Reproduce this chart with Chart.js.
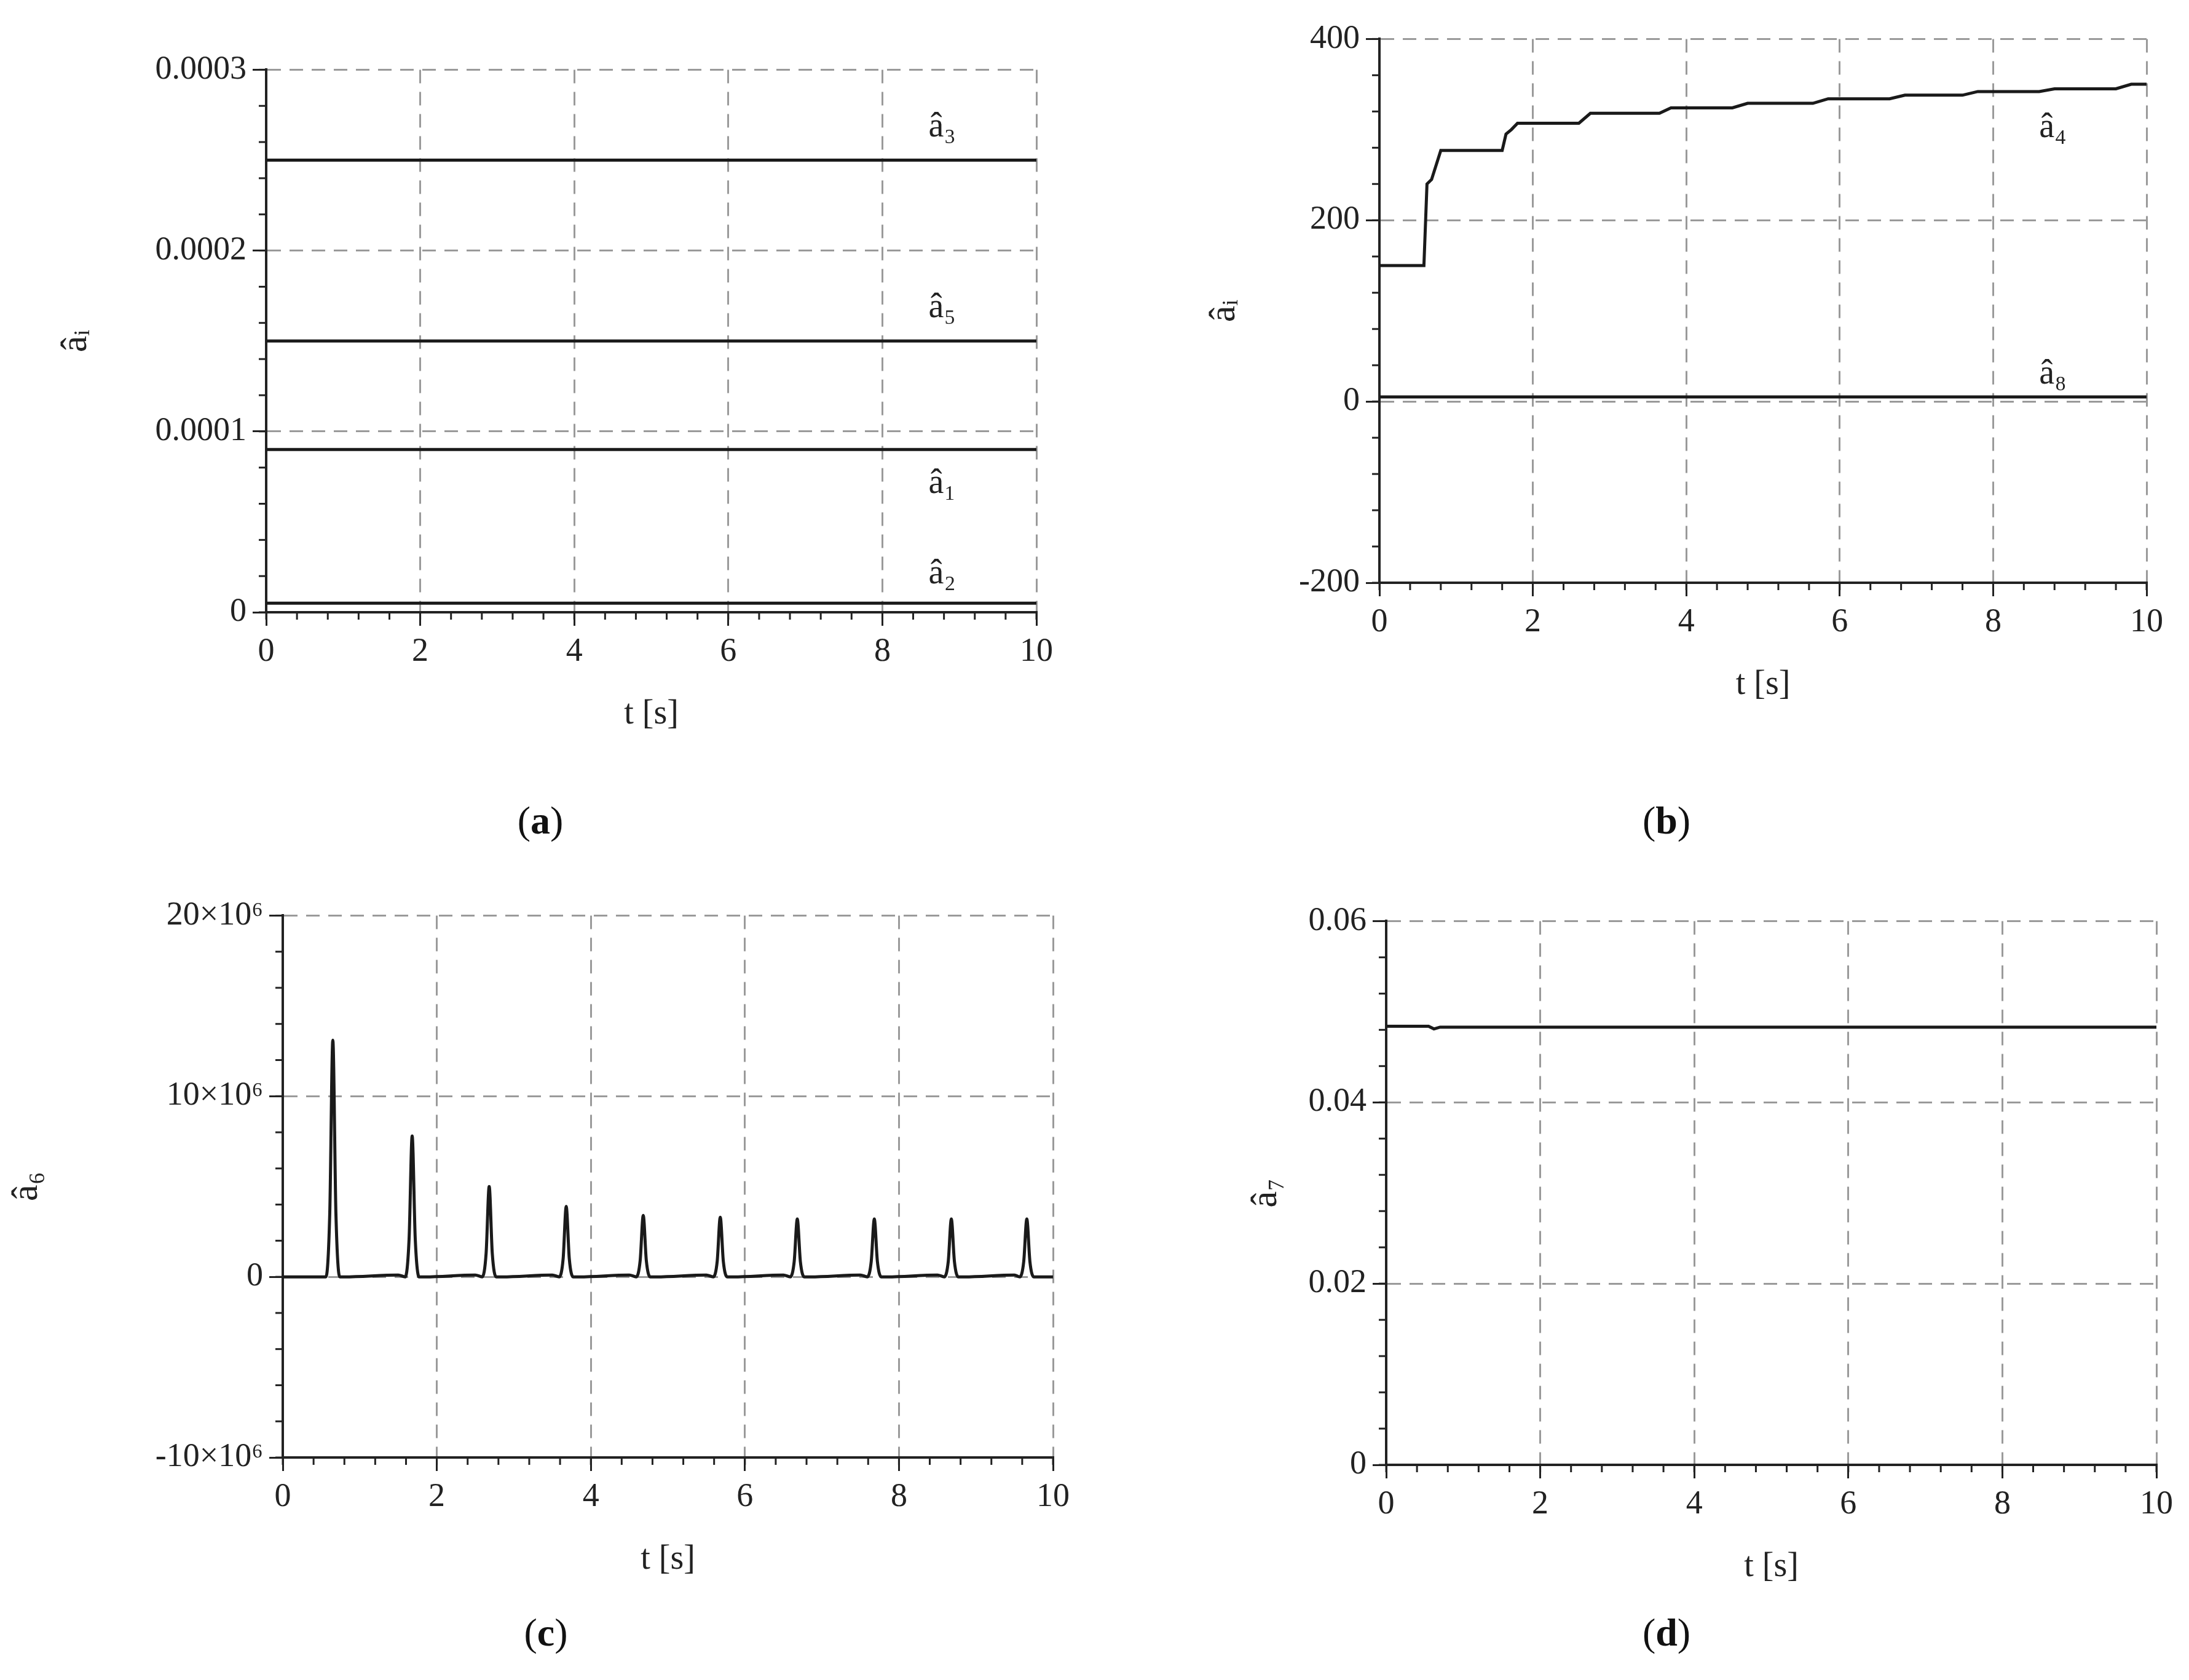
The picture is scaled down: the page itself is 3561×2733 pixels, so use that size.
<!DOCTYPE html>
<html><head><meta charset="utf-8">
<script src="https://cdn.jsdelivr.net/npm/chart.js@4.4.1/dist/chart.umd.min.js"></script>
<style>
body{margin:0;background:#fff;width:3561px;height:2733px;position:relative;overflow:hidden;font-family:"Liberation Serif",serif}
.box{position:absolute}
.cap{position:absolute;font-family:"Liberation Serif",serif;font-size:64px;color:#111;transform:translate(-50%,-50%)}
</style></head><body>
<script>
// ---- data ----
const aLines = [ {name:'â₃', value:0.00025}, {name:'â₅', value:0.00015}, {name:'â₁', value:0.00009}, {name:'â₂', value:0.000005} ];
const aLabelX = [8.6, 8.6, 8.6, 8.6];
const aLabelY = [0.000268, 0.000168, 0.000071, 0.000021];

const bA4T = [0,0.58,0.62,0.68,0.80,1.60,1.65,1.72,1.80,2.60,2.75,3.65,3.80,4.60,4.80,5.65,5.85,6.65,6.85,7.60,7.80,8.60,8.80,9.60,9.80,10];
const bA4V = [150,150,240,245,277,277,295,300,307,307,318,318,324,324,329,329,334,334,338,338,342,342,345,345,350,350];
const bA8T = [0,10];
const bA8V = [5,5];
const bLabelNames = ['â₄','â₈'];
const bLabelX = [8.6, 8.6];
const bLabelY = [302, 30];

const cT = [0,0.50,0.56,0.61,0.65,0.69,0.74,0.80,1.50,1.59,1.64,1.68,1.72,1.77,1.85,2.50,2.59,2.64,2.68,2.72,2.77,2.85,3.50,3.59,3.64,3.68,3.72,3.77,3.85,4.50,4.59,4.64,4.68,4.72,4.77,4.85,5.50,5.59,5.64,5.68,5.72,5.77,5.85,6.50,6.59,6.64,6.68,6.72,6.77,6.85,7.50,7.59,7.64,7.68,7.72,7.77,7.85,8.50,8.59,8.64,8.68,8.72,8.77,8.85,9.50,9.57,9.62,9.66,9.70,9.75,9.83,10];
const cV = [0,0,0,3.5,13.1,3.5,0,0,0.1,0,2.1,7.8,2.1,0,0,0.1,0,1.3,5.0,1.3,0,0,0.1,0,1.0,3.9,1.0,0,0,0.1,0,0.9,3.4,0.9,0,0,0.1,0,0.85,3.3,0.85,0,0,0.1,0,0.85,3.2,0.85,0,0,0.1,0,0.85,3.2,0.85,0,0,0.1,0,0.85,3.2,0.85,0,0,0.1,0,0.85,3.2,0.85,0,0,0];

const dT = [0,0.55,0.62,0.70,0.80,10];
const dV = [0.0484,0.0484,0.0481,0.0483,0.0483,0.0483];

const xTicks = [0,2,4,6,8,10];
const captions = ['(a)','(b)','(c)','(d)'];

// ---- helpers ----
const FONT = '"Liberation Serif", serif';
function pts(t,v){return t.map((x,i)=>({x:x,y:v[i]}));}

const minorTicks = {
  id:'minorTicks',
  afterDraw(chart, args, opts){
    const ctx = chart.ctx, xs = chart.scales.x, ys = chart.scales.y;
    ctx.save(); ctx.strokeStyle='#222'; ctx.lineWidth=3;
    const ca = chart.chartArea;
    for(let v=xs.min; v<=xs.max+1e-9; v+=opts.xStep){
      const p = xs.getPixelForValue(v); ctx.beginPath(); ctx.moveTo(p,ca.bottom); ctx.lineTo(p,ca.bottom+12); ctx.stroke();
    }
    for(let k=0;k<=Math.round((ys.max-ys.min)/opts.yStep);k++){
      const v = ys.min + k*opts.yStep;
      const p = ys.getPixelForValue(v); ctx.beginPath(); ctx.moveTo(ca.left-12,p); ctx.lineTo(ca.left,p); ctx.stroke();
    }
    ctx.restore();
  }
};
const curveLabels = {
  id:'curveLabels',
  afterDatasetsDraw(chart, args, opts){
    if(!opts.names) return;
    const ctx = chart.ctx;
    ctx.save(); ctx.fillStyle='#222'; ctx.font='56px '+FONT; ctx.textAlign='left'; ctx.textBaseline='middle';
    opts.names.forEach((n,i)=>{
      ctx.fillText(n, chart.scales.x.getPixelForValue(opts.xs[i]), chart.scales.y.getPixelForValue(opts.ys[i]));
    });
    ctx.restore();
  }
};

function makePanel(o){
  const div = document.createElement('div');
  div.className='box';
  div.style.left=(o.axisX - o.yW)+'px';
  div.style.top=(o.axisTop - 20)+'px';
  const w = o.yW + o.plotW + 60, h = 20 + o.plotH + 200;
  div.style.width=w+'px'; div.style.height=h+'px';
  const cv = document.createElement('canvas');
  div.appendChild(cv); document.body.appendChild(div);
  new Chart(cv, {
    type:'line',
    data:{datasets:o.datasets.map(d=>({data:d, borderColor:'#1a1a1a', borderWidth:5, pointRadius:0, tension:0, cubicInterpolationMode:o.smooth?'monotone':'default', fill:false}))},
    options:{
      responsive:true, maintainAspectRatio:false, animation:false, devicePixelRatio:1,
      layout:{padding:{top:20,right:60,left:0,bottom:0}},
      plugins:{legend:{display:false}, tooltip:{enabled:false},
        minorTicks:{xStep:0.4, yStep:o.yMinor},
        curveLabels:{names:o.labelNames, xs:o.labelX, ys:o.labelY}},
      scales:{
        x:{type:'linear', min:0, max:10,
          afterBuildTicks:s=>{s.ticks=xTicks.map(v=>({value:v}));},
          afterFit:s=>{s.height=200;},
          grid:{color:'#9a9a9a', lineWidth:3, tickColor:'#222', tickLength:22, tickWidth:3},
          border:{display:true, color:'#222', width:4, dash:[22,14]},
          ticks:{color:'#222', font:{family:FONT,size:54}, padding:10, maxRotation:0},
          title:{display:true, text:'t [s]', color:'#222', font:{family:FONT,size:56}, padding:{top:4,bottom:0}}},
        y:{type:'linear', min:o.yMin, max:o.yMax,
          afterBuildTicks:s=>{s.ticks=o.yTicks.map(v=>({value:v}));},
          afterFit:s=>{s.width=o.yW;},
          grid:{color:'#9a9a9a', lineWidth:3, tickColor:'#222', tickLength:22, tickWidth:3},
          border:{display:true, color:'#222', width:4, dash:[22,14]},
          ticks:{color:'#222', font:{family:FONT,size:54}, padding:10, callback:o.yFmt},
          title:{display:true, text:o.yTitle, color:'#222', font:{family:FONT,size:60}, padding:0}}
      }
    },
    plugins:[minorTicks, curveLabels]
  });
}

makePanel({axisX:433, axisTop:91, plotW:1253, plotH:905, yW:345, yMin:0, yMax:0.0003, yMinor:0.00002,
  yTicks:[0,0.0001,0.0002,0.0003], yFmt:v=>v===0?'0':v.toFixed(4), yTitle:'âᵢ',
  datasets:aLines.map(l=>pts([0,10],[l.value,l.value])),
  labelNames:aLines.map(l=>l.name), labelX:aLabelX, labelY:aLabelY});

makePanel({axisX:2244, axisTop:41, plotW:1248, plotH:907, yW:288, yMin:-200, yMax:400, yMinor:40,
  yTicks:[-200,0,200,400], yFmt:v=>String(v), yTitle:'âᵢ',
  datasets:[pts(bA4T,bA4V), pts(bA8T,bA8V)],
  labelNames:bLabelNames, labelX:bLabelX, labelY:bLabelY});

makePanel({axisX:460, axisTop:1467, plotW:1253, plotH:904, yW:452, yMin:-10, yMax:20, yMinor:2, smooth:true,
  yTicks:[-10,0,10,20], yFmt:v=>v===0?'0':(v+'×10⁶'), yTitle:'â₆',
  datasets:[pts(cT,cV)]});

makePanel({axisX:2255, axisTop:1476, plotW:1253, plotH:907, yW:231, yMin:0, yMax:0.06, yMinor:0.004,
  yTicks:[0,0.02,0.04,0.06], yFmt:v=>v===0?'0':v.toFixed(2), yTitle:'â₇',
  datasets:[pts(dT,dV)]});

const capPos=[[879,1335],[2711,1335],[888,2656],[2711,2656]];
captions.forEach((c,i)=>{
  const d=document.createElement('div'); d.className='cap';
  d.innerHTML='('+'<b>'+c.slice(1,2)+'</b>'+')';
  d.style.left=capPos[i][0]+'px'; d.style.top=capPos[i][1]+'px';
  document.body.appendChild(d);
});
</script>
</body></html>
